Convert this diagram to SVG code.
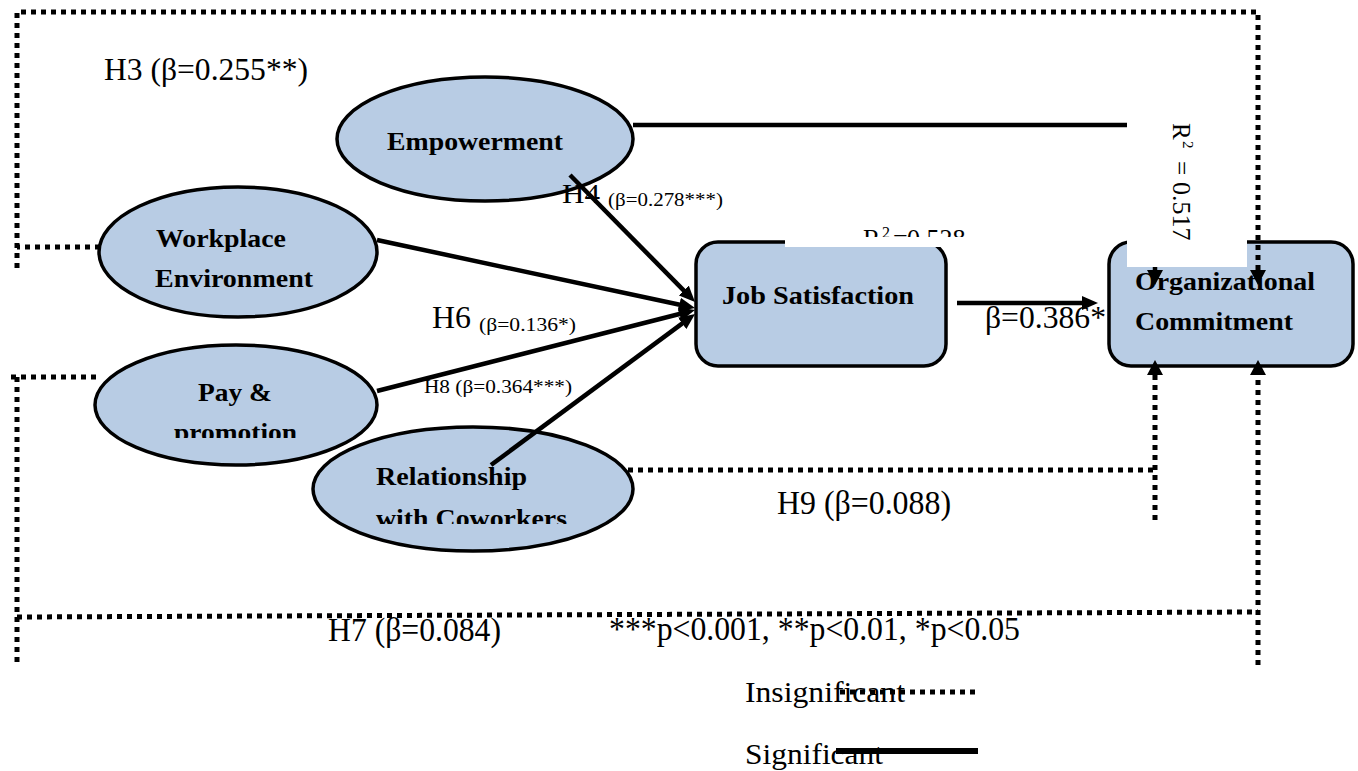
<svg xmlns="http://www.w3.org/2000/svg" width="1358" height="771" viewBox="0 0 1358 771">
<style>
.node{fill:#B8CCE4;stroke:#000;stroke-width:3.5}
.lbl{font-family:"Liberation Serif","Times New Roman",serif;font-weight:bold;font-size:26px;fill:#000}
.t{font-family:"Liberation Serif","Times New Roman",serif;fill:#000}
.big{font-size:32px}
.sm{font-size:18px}
.sig{fill:none;stroke:#000;stroke-width:4.5}
.ins{fill:none;stroke:#000;stroke-width:5;stroke-dasharray:5 5}
</style>
<defs>
<marker id="arr" markerUnits="userSpaceOnUse" markerWidth="16" markerHeight="14" refX="4" refY="7" orient="auto"><path d="M0,0 L16,7 L0,14 Z" fill="#000"/></marker>
<marker id="arrs" markerUnits="userSpaceOnUse" markerWidth="15" markerHeight="16" refX="3" refY="8" orient="auto"><path d="M0,0 L15,8 L0,16 Z" fill="#000"/></marker>
<clipPath id="cPromo"><rect x="100" y="400" width="300" height="38"/></clipPath>
<clipPath id="cCow"><rect x="330" y="490" width="300" height="34"/></clipPath>
<clipPath id="cR528"><rect x="840" y="200" width="140" height="37"/></clipPath>
</defs>
<rect width="1358" height="771" fill="#fff"/>

<g id="empowerment">
<ellipse class="node" cx="485" cy="139" rx="148" ry="62"/>
<text class="lbl" x="387" y="150" textLength="176" lengthAdjust="spacingAndGlyphs">Empowerment</text>
</g>
<g id="workplace-environment">
<ellipse class="node" cx="238" cy="252" rx="139" ry="65"/>
<text class="lbl" x="156" y="247" textLength="130" lengthAdjust="spacingAndGlyphs">Workplace</text>
<text class="lbl" x="155" y="287" textLength="158" lengthAdjust="spacingAndGlyphs">Environment</text>
</g>
<g id="pay-promotion">
<ellipse class="node" cx="236" cy="405" rx="141" ry="60"/>
<text class="lbl" x="198" y="401" textLength="74" lengthAdjust="spacingAndGlyphs">Pay &amp;</text>
<text class="lbl" x="174" y="441" textLength="123" lengthAdjust="spacingAndGlyphs" clip-path="url(#cPromo)">promotion</text>
</g>
<g id="relationship-coworkers">
<ellipse class="node" cx="473" cy="489" rx="160" ry="62"/>
<text class="lbl" x="376" y="485" textLength="151" lengthAdjust="spacingAndGlyphs">Relationship</text>
<text class="lbl" x="376" y="527" textLength="191" lengthAdjust="spacingAndGlyphs" clip-path="url(#cCow)">with Coworkers</text>
</g>
<g id="job-satisfaction">
<rect class="node" x="696" y="242" width="250" height="124" rx="22"/>
<text class="lbl" x="722" y="304" textLength="192" lengthAdjust="spacingAndGlyphs">Job Satisfaction</text>
</g>
<g id="organizational-commitment">
<rect class="node" x="1109" y="242" width="244" height="124" rx="22"/>
<text class="lbl" x="1135" y="290" textLength="180" lengthAdjust="spacingAndGlyphs">Organizational</text>
<text class="lbl" x="1135" y="330" textLength="158" lengthAdjust="spacingAndGlyphs">Commitment</text>
</g>

<g id="edge-labels" class="t">
<text class="big" x="104" y="80" textLength="204" lengthAdjust="spacingAndGlyphs">H3 (β=0.255**)</text>
<text x="562" y="203" font-size="28" textLength="38" lengthAdjust="spacingAndGlyphs">H4</text>
<text class="sm" x="608" y="206" textLength="115" lengthAdjust="spacingAndGlyphs">(β=0.278***)</text>
<text x="432" y="328" font-size="31" textLength="39" lengthAdjust="spacingAndGlyphs">H6</text>
<text class="sm" x="479" y="331" textLength="97" lengthAdjust="spacingAndGlyphs">(β=0.136*)</text>
<text class="sm" x="424" y="393" textLength="148" lengthAdjust="spacingAndGlyphs">H8 (β=0.364***)</text>
<text x="985" y="328" font-size="31" textLength="121" lengthAdjust="spacingAndGlyphs">β=0.386*</text>
<text x="777" y="514" font-size="33" textLength="174" lengthAdjust="spacingAndGlyphs">H9 (β=0.088)</text>
<text x="328" y="641" font-size="34" textLength="173" lengthAdjust="spacingAndGlyphs">H7 (β=0.084)</text>
<text x="609" y="640" font-size="33" textLength="411" lengthAdjust="spacingAndGlyphs">***p&lt;0.001, **p&lt;0.01, *p&lt;0.05</text>
<text x="745" y="702" font-size="30" textLength="160" lengthAdjust="spacingAndGlyphs">Insignificant</text>
<text x="745" y="764" font-size="30" textLength="138" lengthAdjust="spacingAndGlyphs">Significant</text>
</g>

<g id="connectors">
<path class="sig" d="M570,175 L686.6,293.4" marker-end="url(#arr)"/>
<path class="sig" d="M377,240 L683.3,305.5" marker-end="url(#arr)"/>
<path class="sig" d="M377,391 L683.4,313" marker-end="url(#arr)"/>
<path class="sig" d="M491,465 L685.4,321.1" marker-end="url(#arr)"/>
<path class="sig" d="M957,303 L1086,303" marker-end="url(#arr)"/>
<path class="sig" d="M633,125 H1155 V273" marker-end="url(#arrs)"/>
<path class="ins" d="M100,247 H17 M17,268 V12 H1258 V273" marker-end="url(#arrs)"/>
<path class="ins" d="M96,377 H7 M17,377 V667 M17,617 L1258,612 M1258,665 V372" marker-end="url(#arrs)"/>
<path class="ins" d="M628,470 H1155 M1155,520 V372" marker-end="url(#arrs)"/>
<path class="ins" d="M840,692 H975"/>
<path d="M836,751 H978" stroke="#000" stroke-width="6"/>
</g>

<g id="overlays">
<rect x="785" y="236" width="160" height="11" fill="#fff"/>
<rect x="1127" y="95" width="120" height="172" fill="#fff"/>
<text class="t" font-size="26" clip-path="url(#cR528)"><tspan x="863" y="247">R</tspan><tspan x="882" y="238" font-size="16">2</tspan><tspan x="893" y="247">=</tspan><tspan x="907" y="247">0.528</tspan></text>
<g class="t" transform="translate(1173,123) rotate(90)">
<text font-size="25" x="0" y="0">R</text>
<text font-size="15" x="18" y="-10">2</text>
<text font-size="25" x="38" y="0">=</text>
<text font-size="26" x="59" y="0">0.517</text>
</g>
</g>
</svg>
